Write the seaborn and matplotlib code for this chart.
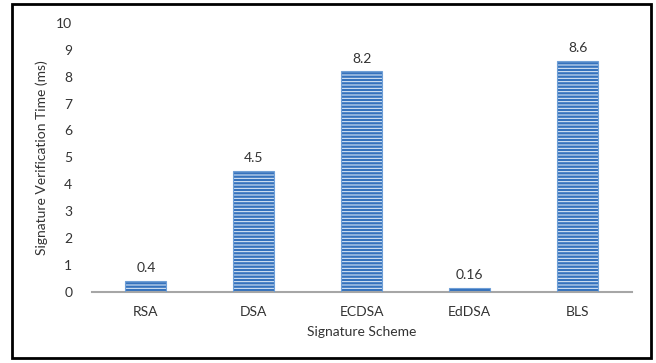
import matplotlib
matplotlib.use("Agg")
import matplotlib.pyplot as plt
import seaborn as sns
import pandas as pd
from matplotlib.patches import Rectangle

schemes = ["RSA", "DSA", "ECDSA", "EdDSA", "BLS"]
times = [0.4, 4.5, 8.2, 0.16, 8.6]
labels = ["0.4", "4.5", "8.2", "0.16", "8.6"]

sns.set_theme(style="white")
plt.rcParams['font.family'] = ['Lato', 'DejaVu Sans']
plt.rcParams['hatch.linewidth'] = 0.7

df = pd.DataFrame({"scheme": schemes, "time": times})

fig = plt.figure(figsize=(6.56, 3.63), dpi=100)
ax = fig.add_axes([0.140, 0.196, 0.823, 0.741])

sns.barplot(data=df, x="scheme", y="time", ax=ax, color="#3572bd",
            width=0.38, saturation=1, edgecolor="#eaf2fb", linewidth=0)
for p in ax.patches:
    p.set_hatch("-----")
    ax.add_patch(Rectangle((p.get_x(), p.get_y()), p.get_width(), p.get_height(),
                           fill=False, edgecolor="#6f9fd6", linewidth=0.8, zorder=3))

for i, (v, t) in enumerate(zip(times, labels)):
    ax.text(i, v + 0.25, t, ha="center", va="bottom", fontsize=10, color="#333333")

ax.set_ylim(0, 10)
ax.set_xlim(-0.5, 4.5)
ax.set_yticks(range(0, 11))
for s in ["top", "right", "left"]:
    ax.spines[s].set_visible(False)
ax.spines["bottom"].set_color("#a6a6a6")
ax.spines["bottom"].set_linewidth(1.5)
ax.tick_params(axis="both", length=0, labelsize=10, colors="#333333")
ax.tick_params(axis="y", pad=14)
ax.tick_params(axis="x", pad=10)
ax.set_xlabel("Signature Scheme", fontsize=10, color="#333333", labelpad=6)
ax.set_ylabel("Signature Verification Time (ms)", fontsize=10, color="#333333", labelpad=6)

fig.patches.append(Rectangle((0.019, 0.014), 0.973, 0.974, transform=fig.transFigure,
                             fill=False, edgecolor="black", linewidth=2))

fig.savefig("out.png", dpi=100)
